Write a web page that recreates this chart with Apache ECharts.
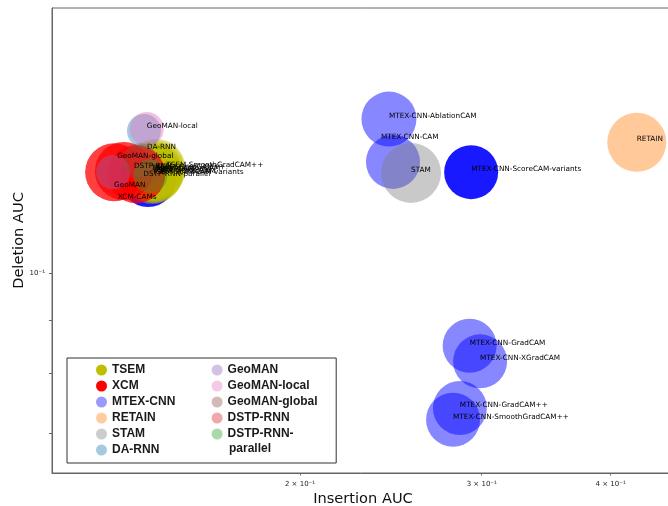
<!DOCTYPE html>
<html>
<head>
<meta charset="utf-8">
<script src="https://cdn.jsdelivr.net/npm/echarts@6/dist/echarts.min.js"></script>
<style>
  html, body { margin: 0; padding: 0; background: #fff; }
  #chart { width: 668px; height: 506px; }
</style>
</head>
<body>
<div id="chart"></div>
<script>
// Insertion AUC vs deletion AUC for each explanation method (log-log axes).

const tsemNames = ['TSEM-CAM', 'TSEM-GradCAM', 'TSEM-GradCAM++', 'TSEM-SmoothGradCAM++',
  'TSEM-XGradCAM', 'TSEM-ScoreCAM-variants', 'TSEM-AblationCAM'];
const tsemInsertion = [0.1448, 0.1441, 0.1451, 0.1451, 0.1444, 0.1438, 0.1435];
const tsemDeletion = [0.1251, 0.1249, 0.1257, 0.1263, 0.1246, 0.1243, 0.1254];

const xcmNames = ['', 'XCM-CAMs', ''];
const xcmInsertion = [0.1321, 0.1350, 0.1388];
const xcmDeletion = [0.1251, 0.1254, 0.1245];

const mtexNames = ['MTEX-CNN-AblationCAM', 'MTEX-CNN-CAM', 'MTEX-CNN-ScoreCAM-variants',
  'MTEX-CNN-GradCAM', 'MTEX-CNN-XGradCAM', 'MTEX-CNN-GradCAM++', 'MTEX-CNN-SmoothGradCAM++', ''];
const mtexInsertion = [0.2439, 0.2461, 0.2930, 0.2920, 0.2989, 0.2857, 0.2814, 0.1425];
const mtexDeletion = [0.1408, 0.1280, 0.1251, 0.0850, 0.0821, 0.0740, 0.0721, 0.1232];

const retainNames = ['RETAIN'];
const retainInsertion = [0.4240];
const retainDeletion = [0.1337];

const stamNames = ['STAM'];
const stamInsertion = [0.2562];
const stamDeletion = [0.1249];

const daRnnNames = ['DA-RNN'];
const daRnnInsertion = [0.1412];
const daRnnDeletion = [0.1371];

const geomanNames = ['GeoMAN'];
const geomanInsertion = [0.1318];
const geomanDeletion = [0.1251];

const geomanLocalNames = ['GeoMAN-local'];
const geomanLocalInsertion = [0.1421];
const geomanLocalDeletion = [0.1377];

const geomanGlobalNames = ['GeoMAN-global'];
const geomanGlobalInsertion = [0.1400];
const geomanGlobalDeletion = [0.1285];

const dstpNames = ['DSTP-RNN'];
const dstpInsertion = [0.1415];
const dstpDeletion = [0.1266];

const dstpParNames = ['DSTP-RNN-parallel'];
const dstpParInsertion = [0.1432];
const dstpParDeletion = [0.1240];

// Axis limits and tick labels
const xRange = [0.1150, 0.4607];
const yRange = [0.06403, 0.1803];
const xTickValues = [0.2, 0.3, 0.4];
const xTickLabels = ['2 × 10⁻¹', '3 × 10⁻¹', '4 × 10⁻¹'];
const yTickValues = [0.07, 0.08, 0.09, 0.1];
const yLabelValues = [0.1];
const yTickLabels = ['10⁻¹'];

// Legend order
const legendOrder = ['TSEM', 'XCM', 'MTEX-CNN', 'RETAIN', 'STAM', 'DA-RNN',
  'GeoMAN', 'GeoMAN-local', 'GeoMAN-global', 'DSTP-RNN', 'DSTP-RNN-parallel'];

// Groups in drawing order (first drawn at the bottom)
const groups = [
  { name: 'MTEX-CNN', names: mtexNames, ins: mtexInsertion, del: mtexDeletion },
  { name: 'TSEM', names: tsemNames, ins: tsemInsertion, del: tsemDeletion },
  { name: 'XCM', names: xcmNames, ins: xcmInsertion, del: xcmDeletion },
  { name: 'RETAIN', names: retainNames, ins: retainInsertion, del: retainDeletion },
  { name: 'STAM', names: stamNames, ins: stamInsertion, del: stamDeletion },
  { name: 'DA-RNN', names: daRnnNames, ins: daRnnInsertion, del: daRnnDeletion },
  { name: 'GeoMAN', names: geomanNames, ins: geomanInsertion, del: geomanDeletion },
  { name: 'GeoMAN-local', names: geomanLocalNames, ins: geomanLocalInsertion, del: geomanLocalDeletion },
  { name: 'GeoMAN-global', names: geomanGlobalNames, ins: geomanGlobalInsertion, del: geomanGlobalDeletion },
  { name: 'DSTP-RNN', names: dstpNames, ins: dstpInsertion, del: dstpDeletion },
  { name: 'DSTP-RNN-parallel', names: dstpParNames, ins: dstpParInsertion, del: dstpParDeletion }
];

// Marker styles per group
const groupStyle = {
  'TSEM':              { color: '#bfbf00', alpha: 0.45, size: 58, legendAlpha: 1 },
  'XCM':               { color: '#ff0000', alpha: 0.75, size: 58, legendAlpha: 1 },
  'MTEX-CNN':          { color: '#0000ff', alpha: 0.47, size: 54, legendAlpha: 0.4 },
  'RETAIN':            { color: '#ff7f0e', alpha: 0.42, size: 59, legendAlpha: 0.4 },
  'STAM':              { color: '#7f7f7f', alpha: 0.42, size: 60, legendAlpha: 0.4 },
  'DA-RNN':            { color: '#1f77b4', alpha: 0.4, size: 34, legendAlpha: 0.4 },
  'GeoMAN':            { color: '#9467bd', alpha: 0.4, size: 34, legendAlpha: 0.4 },
  'GeoMAN-local':      { color: '#e377c2', alpha: 0.45, size: 34, legendAlpha: 0.4 },
  'GeoMAN-global':     { color: '#8c564b', alpha: 0.4, size: 34, legendAlpha: 0.4 },
  'DSTP-RNN':          { color: '#d62728', alpha: 0.4, size: 34, legendAlpha: 0.4 },
  'DSTP-RNN-parallel': { color: '#2ca02c', alpha: 0.4, size: 34, legendAlpha: 0.4 }
};

// Per-point marker overrides (stacked variants read darker)
const pointStyle = {
  'MTEX-CNN-ScoreCAM-variants': { alpha: 0.9 },
  'MTEX-CNN-AblationCAM': { size: 55 }
};
const unnamedStyle = { 'MTEX-CNN': { alpha: 0.9, size: 56 } };

// Annotation nudges (pixels) for labels moved off their points
const labelNudge = {
  'MTEX-CNN-CAM': [-12, -22],
  'GeoMAN': [1, 16],
  'XCM-CAMs': [-6, 29],
  'DA-RNN': [3, 19],
  'GeoMAN-global': [-23, -1],
  'DSTP-RNN': [-11, 2],
  'DSTP-RNN-parallel': [-7, 1],
  'TSEM-SmoothGradCAM++': [10, 0]
};

const baseFont = 'DejaVu Sans';

function rgba(hex, a) {
  const r = parseInt(hex.slice(1, 3), 16);
  const g = parseInt(hex.slice(3, 5), 16);
  const b = parseInt(hex.slice(5, 7), 16);
  return 'rgba(' + r + ',' + g + ',' + b + ',' + a + ')';
}

const series = groups.map(g => {
  const st = groupStyle[g.name];
  const data = g.names.map((n, i) => {
    const item = { name: n, value: [g.ins[i], g.del[i]] };
    const ps = n ? pointStyle[n] : unnamedStyle[g.name];
    item.symbolSize = (ps && ps.size) || st.size;
    if (ps && ps.alpha != null) item.itemStyle = { color: rgba(st.color, ps.alpha), opacity: 1 };
    if (!n) {
      item.label = { show: false };
    } else if (labelNudge[n]) {
      item.label = { offset: [labelNudge[n][0], -3 + labelNudge[n][1]] };
    }
    return item;
  });
  return {
    name: g.name,
    type: 'scatter',
    symbol: 'circle',
    data: data,
    itemStyle: { color: rgba(st.color, st.alpha), opacity: 1 },
    label: {
      show: true,
      position: 'inside',
      align: 'left',
      verticalAlign: 'middle',
      offset: [0, -3],
      formatter: p => p.name,
      fontFamily: baseFont,
      fontSize: 7.3,
      color: '#000',
      opacity: 1
    },
    emphasis: { disabled: true }
  };
});

const axisColor = '#666';

function pickLabel(values, labels, v) {
  for (let i = 0; i < values.length; i++) {
    if (Math.abs(values[i] - v) < 1e-6) return labels[i];
  }
  return '';
}

const chart = echarts.init(document.getElementById('chart'), null, { renderer: 'canvas' });

chart.setOption({
  animation: false,
  backgroundColor: '#fff',
  grid: {
    left: 52, top: 8, width: 622, height: 465,
    outerBoundsMode: 'none',
    containLabel: false,
    show: true, borderColor: axisColor, borderWidth: 1, backgroundColor: 'transparent'
  },
  xAxis: {
    type: 'log',
    logBase: 10,
    min: xRange[0],
    max: xRange[1],
    name: 'Insertion AUC',
    nameLocation: 'middle',
    nameGap: 19,
    nameMoveOverlap: false,
    nameTextStyle: { fontFamily: baseFont, fontSize: 14.6, color: '#111' },
    axisLine: { show: true, lineStyle: { color: axisColor, width: 1 } },
    axisTick: { show: true, customValues: xTickValues, length: 2.5, lineStyle: { color: axisColor } },
    axisLabel: {
      customValues: xTickValues,
      formatter: v => pickLabel(xTickValues, xTickLabels, v),
      fontFamily: baseFont, fontSize: 7, color: '#222', margin: 8
    },
    splitLine: { show: false }
  },
  yAxis: {
    type: 'log',
    logBase: 10,
    min: yRange[0],
    max: yRange[1],
    name: 'Deletion AUC',
    nameLocation: 'middle',
    nameGap: 25,
    nameMoveOverlap: false,
    nameRotate: 90,
    nameTextStyle: { fontFamily: baseFont, fontSize: 14.6, color: '#111' },
    axisLine: { show: true, lineStyle: { color: axisColor, width: 1 } },
    axisTick: { show: true, customValues: yTickValues, length: 3, lineStyle: { color: axisColor } },
    axisLabel: {
      customValues: yLabelValues,
      formatter: v => pickLabel(yLabelValues, yTickLabels, v),
      fontFamily: baseFont, fontSize: 7, color: '#222', margin: 7
    },
    splitLine: { show: false }
  },
  legend: {
    orient: 'vertical',
    left: 67,
    top: 358,
    height: 100,
    itemWidth: 11,
    itemHeight: 11,
    itemGap: 0,
    padding: [4, 9, 5, 29],
    borderColor: '#333',
    borderWidth: 1,
    borderRadius: 0,
    backgroundColor: '#fff',
    selectedMode: false,
    textStyle: {
      fontFamily: 'Liberation Sans', fontWeight: 'bold', fontSize: 12,
      color: '#1a1a1a', lineHeight: 16, width: 99.6
    },
    formatter: n => (n === 'DSTP-RNN-parallel' ? 'DSTP-RNN-' : n),
    data: legendOrder.map(n => ({
      name: n,
      icon: 'circle',
      itemStyle: { color: rgba(groupStyle[n].color, groupStyle[n].legendAlpha), opacity: 1 }
    }))
  },
  graphic: [{
    type: 'text',
    left: 229,
    top: 443,
    z: 100,
    style: {
      text: 'parallel',
      font: 'bold 12px "Liberation Sans"',
      fill: '#1a1a1a'
    }
  }],
  series: series
});
</script>
</body>
</html>
